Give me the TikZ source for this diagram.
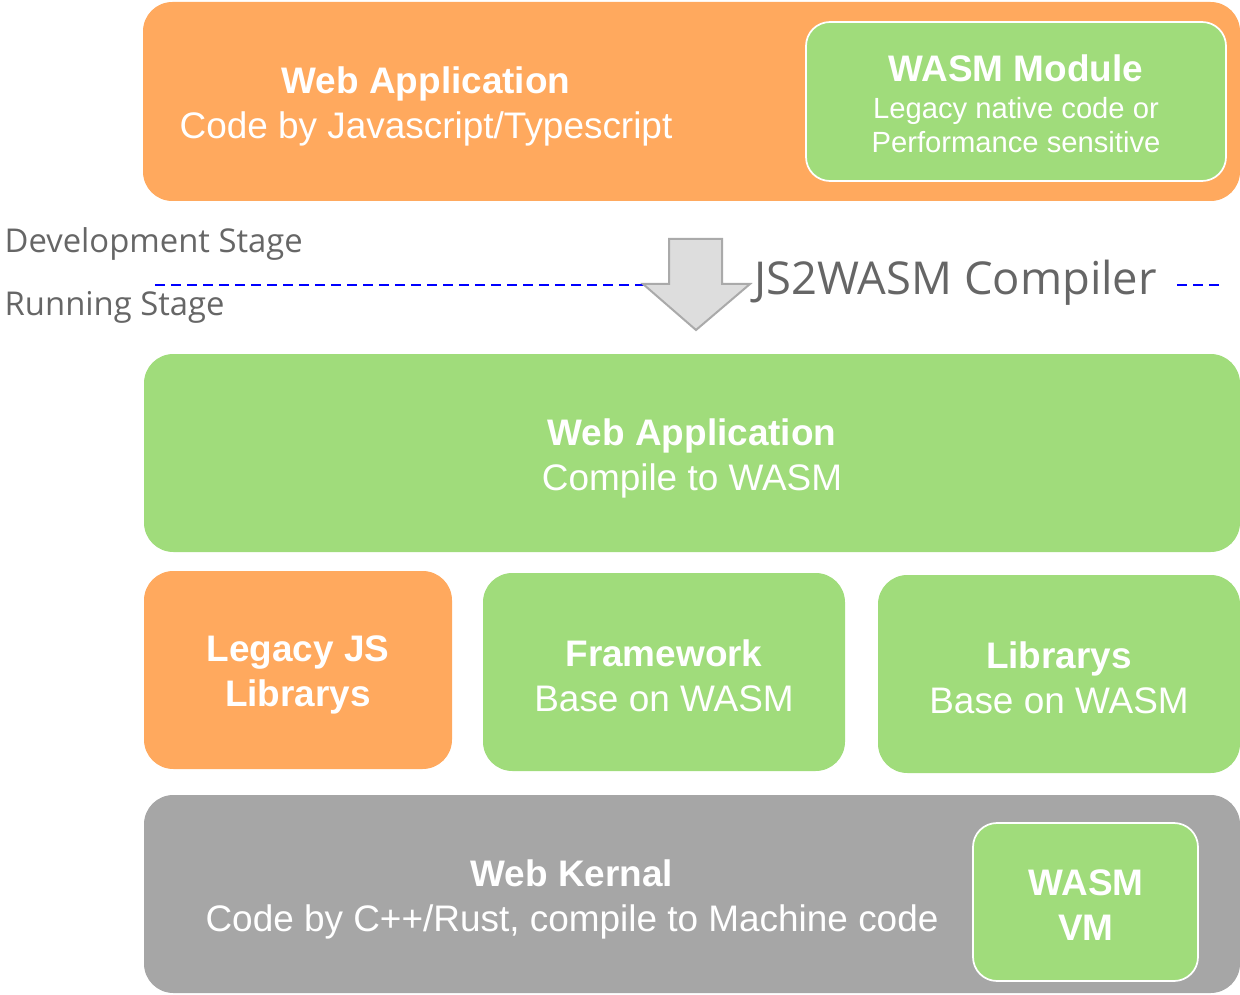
\documentclass[tikz,border=0pt]{standalone}
\usepackage{fontspec}
\setmainfont{Liberation Sans}
\newfontfamily\stagefont{Open Sans}
\usetikzlibrary{fit}
\definecolor{boxorange}{HTML}{FFA95E}
\definecolor{boxgreen}{HTML}{A0DC7B}
\definecolor{boxgray}{HTML}{A6A6A6}
\definecolor{labelgray}{HTML}{666666}
\definecolor{arrowfill}{HTML}{DDDDDD}
\definecolor{arrowline}{HTML}{AAAAAA}
\definecolor{stageblue}{HTML}{0000FF}
\newcommand\subline[1]{{\fontsize{21.9}{26.2}\selectfont #1}}
\tikzset{
  panel/.style={fit={#1}, inner sep=0pt, rounded corners=22pt, draw=none},
  inner panel/.style={fit={#1}, inner sep=0pt, rounded corners=18pt, draw=white, line width=1.3pt},
  bigtext/.style={text=white, align=center, font=\fontsize{27.7}{33.75}\selectfont},
  stagetext/.style={text=labelgray, anchor=west, font=\stagefont\fontsize{24.6}{29}\selectfont},
  stageline/.style={draw=stageblue, line width=1.7pt, dash pattern=on 7.5pt off 4.5pt},
}
\begin{document}
\begin{tikzpicture}[x=0.75pt,y=-0.75pt]
\useasboundingbox (0,0) rectangle (1240,995);

% development stage: application sources
\node[panel={(143,2) (1240,201)}, fill=boxorange] (devapp) {};
\node[bigtext] (devapptext) at (426,106) {\textbf{Web Application}\\Code by Javascript/Typescript};
\node[inner panel={(806,22) (1226,181)}, fill=boxgreen] (wasmmod) {};
\node[bigtext] (wasmmodtext) at (1016,104) {\textbf{WASM Module}\\[-6pt]\subline{Legacy native code or}\\[-8pt]\subline{Performance sensitive}};

% stage separator
\node[stagetext] (devstage) at (0,244) {Development Stage};
\node[stagetext] (runstage) at (0,307) {Running Stage};
\coordinate (sepL) at (155,285);
\coordinate (sepM) at (660,285);
\coordinate (sepR1) at (1177,285);
\coordinate (sepR2) at (1224,285);
\draw[stageline] (sepL) -- (sepM);
\draw[stageline] (sepR1) -- (sepR2);

% compile arrow
\coordinate (a1) at (669,239);
\coordinate (a2) at (722,239);
\coordinate (a3) at (722,284);
\coordinate (a4) at (750,284);
\coordinate (a5) at (696,330);
\coordinate (a6) at (643,284);
\coordinate (a7) at (669,284);
\draw[fill=arrowfill, draw=arrowline, line width=1.5pt, line join=miter]
  (a1) -- (a2) -- (a3) -- (a4) -- (a5) -- (a6) -- (a7) -- cycle;
\node[text=labelgray, anchor=west, font=\stagefont\fontsize{34}{40}\selectfont] (compiler) at (750,283) {JS2WASM Compiler};

% running stage
\node[panel={(144,354) (1240,552)}, fill=boxgreen] (runapp) {};
\node[bigtext] (runapptext) at (692,458) {\textbf{Web Application}\\Compile to WASM};

\node[panel={(144,571) (452,769)}, fill=boxorange] (legacy) {};
\node[bigtext] (legacytext) at (298,675) {\textbf{Legacy JS}\\\textbf{Librarys}};

\node[panel={(483,573) (845,771)}, fill=boxgreen] (framework) {};
\node[bigtext] (frameworktext) at (664,676) {\textbf{Framework}\\Base on WASM};

\node[panel={(878,575) (1240,773)}, fill=boxgreen] (libs) {};
\node[bigtext] (libstext) at (1059,678) {\textbf{Librarys}\\Base on WASM};

\node[panel={(144,795) (1240,993)}, fill=boxgray] (kernel) {};
\node[bigtext] (kerneltext) at (572,899) {\textbf{Web Kernal}\\Code by C++/Rust, compile to Machine code};
\node[inner panel={(973,823) (1198,981)}, fill=boxgreen] (vm) {};
\node[bigtext] (vmtext) at (1086,905) {\textbf{WASM}\\\textbf{VM}};
\end{tikzpicture}
\end{document}
